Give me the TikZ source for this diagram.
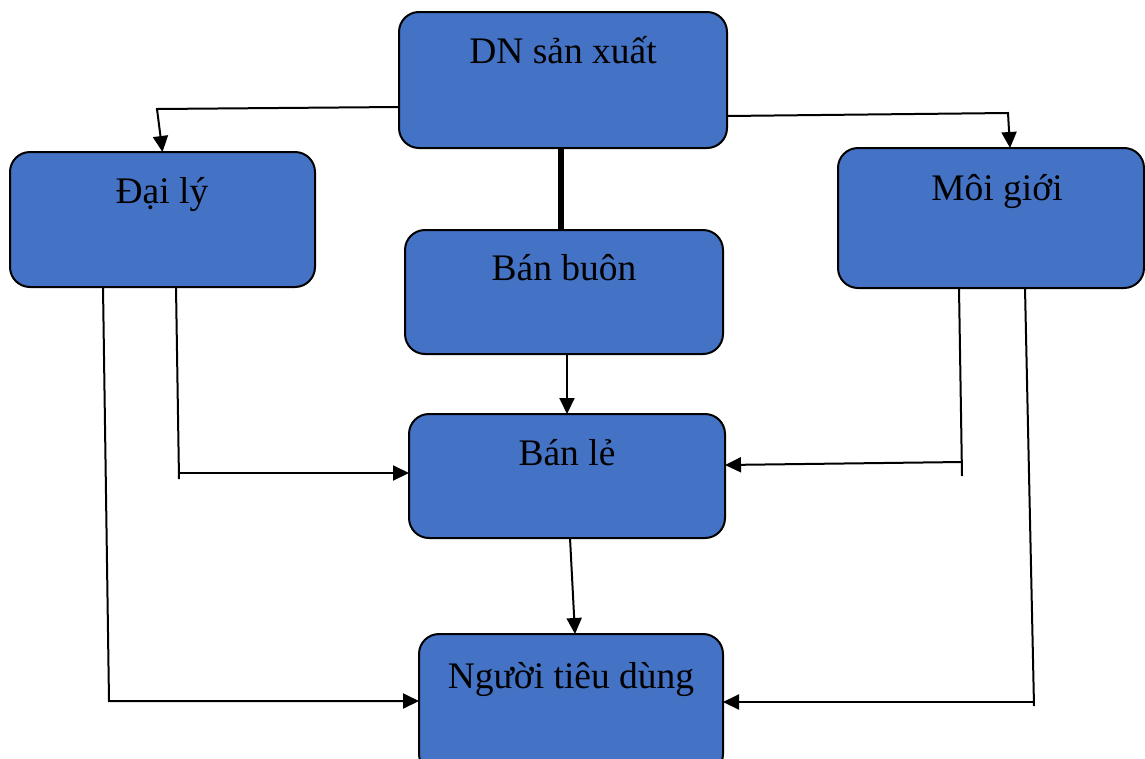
\documentclass[tikz,border=0pt]{standalone}
\usepackage{fontspec}
\setmainfont{Liberation Serif}
\usetikzlibrary{arrows.meta}
\definecolor{boxblue}{HTML}{4472C4}
\begin{document}
\begin{tikzpicture}[x=1pt,y=-1pt,
  box/.style={draw=black, line width=2pt, fill=boxblue, rounded corners=20pt, inner sep=0pt, outer sep=0pt},
  lbl/.style={anchor=base, inner sep=0pt, font=\fontsize{37.5}{42}\selectfont},
  conn/.style={line width=2pt, -{Triangle[length=16pt,width=15pt]}},
  plain/.style={line width=2pt}]
\useasboundingbox (0,0) rectangle (1145,758);
\fill[white] (0,0) rectangle (1145,758);
% boxes
\node[box, minimum width=328pt, minimum height=136pt] (dn) at (563,80) {};
\node[box, minimum width=305pt, minimum height=135pt] (dl) at (162.5,219.5) {};
\node[box, minimum width=306pt, minimum height=140pt] (mg) at (991,218) {};
\node[box, minimum width=318pt, minimum height=124pt] (bb) at (564,292) {};
\node[box, minimum width=316pt, minimum height=124pt] (bl) at (567,476) {};
\node[box, minimum width=304pt, minimum height=140pt] (ntd) at (571,704) {};
% labels
\node[lbl] (dnt) at (563,63) {DN sản xuất};
\node[lbl] (dlt) at (162,203) {Đại lý};
\node[lbl] (mgt) at (997,200) {Môi giới};
\node[lbl] (bbt) at (564,280) {Bán buôn};
\node[lbl] (blt) at (567,465) {Bán lẻ};
\node[lbl] (ntdt) at (571,688) {Người tiêu dùng};
% connectors
\draw[conn] (dn.west |- 0,107) -- (157,109) -- (dl.north);
\draw[conn] (dn.east |- 0,116) -- (1008,113) -- (mg.north -| 1010,0);
\draw[line width=6pt] (dn.south -| 561,0) -- (bb.north -| 561,0);
\draw[conn] (bb.south -| 567,0) -- (bl.north -| 567,0);
\draw[plain] (dl.south -| 176,0) -- (179,479);
\draw[conn] (179,473) -- (bl.west |- 0,473);
\draw[conn] (dl.south -| 103,0) -- (109,701) -- (ntd.west |- 0,701);
\draw[plain] (mg.south -| 959,0) -- (962,476);
\draw[conn] (962,462) -- (bl.east |- 0,465);
\draw[plain] (mg.south -| 1025,0) -- (1034,706);
\draw[conn] (1034,702) -- (ntd.east |- 0,702);
\draw[conn] (bl.south -| 570,0) -- (ntd.north -| 575,0);
\end{tikzpicture}
\end{document}
